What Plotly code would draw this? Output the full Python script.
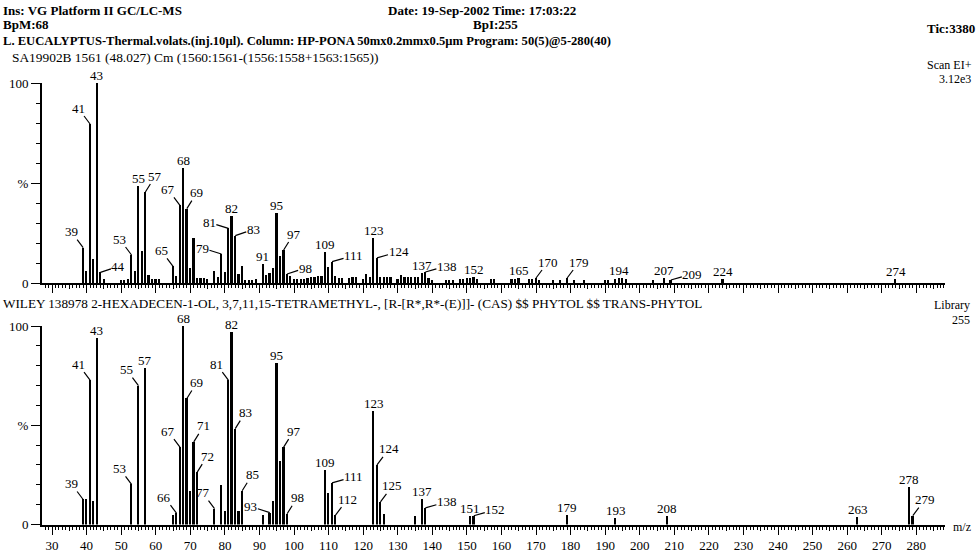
import plotly.graph_objects as go

# ---------------- data ----------------
# Sample spectrum (top): m/z and relative intensity (%)
top_mz = [39, 40, 41, 42, 43, 44, 45, 50, 51, 52, 53, 54, 55, 56, 57, 58, 59, 60, 61,
          65, 66, 67, 68, 69, 70, 71, 72, 73, 74, 75, 77, 78, 79, 80, 81, 82, 83, 84, 85,
          86, 87, 88, 89, 91, 92, 93, 94, 95, 96, 97, 98, 99, 100, 101, 102, 103, 104,
          105, 106, 107, 108, 109, 110, 111, 112, 113, 114, 116, 117, 118, 120, 121, 122,
          123, 124, 125, 126, 127, 128, 130, 131, 132, 133, 134, 135, 136, 137, 138, 139,
          140, 144, 145, 146, 148, 149, 150, 151, 152, 153, 157, 158, 163, 164, 165, 168,
          169, 170, 171, 175, 177, 179, 181, 184, 190, 191, 193, 194, 195, 196, 204, 207,
          209, 224, 274]
top_int = [17.7, 6, 79.5, 12, 100, 5.3, 2, 1.5, 1.5, 2, 14, 5.8, 48.3, 16.2, 45.5, 4, 1.8, 1.8, 1.8,
           8.3, 3.3, 38.8, 57.4, 37.2, 7.4, 22.3, 2.5, 2.5, 2.5, 2, 6, 3, 14.5, 5.3, 27.3, 33.3, 23.7, 4.5, 8.7,
           1.3, 1.5, 1.7, 2, 9.5, 4, 5, 7.3, 35, 13.3, 16.5, 4.5, 3.3, 2, 2, 2, 2, 2.5,
           3, 3, 3.3, 3.3, 15.5, 7.8, 10.7, 3.4, 2.5, 2.5, 2.5, 3, 3, 2, 4.5, 3,
           22.7, 12.6, 3, 3, 3, 3, 2, 4, 3, 3, 3, 3, 3, 5, 5.5, 2.5,
           1.7, 1.7, 1.7, 1.7, 2, 2, 2.5, 2.5, 3, 2, 2, 2, 2, 2, 2.5, 2,
           2, 2.5, 1.7, 1.5, 1.5, 2.5, 1.5, 1.5, 1.5, 1.5, 2, 2.5, 2.5, 2, 1.5, 2.5,
           1.5, 2, 2]
top_label_mz = [39, 41, 43, 44, 53, 55, 57, 65, 67, 68, 69, 79, 81, 82, 83, 91, 95, 97, 98,
                109, 111, 123, 124, 137, 138, 152, 165, 170, 179, 194, 207, 209, 224, 274]
top_label_pos = ["ul", "ul", "up", "r", "ul", "up", "ur", "ul", "ul", "up", "ur", "l", "l", "up", "r",
                 "up", "up", "ur", "r", "up", "r", "up", "r", "up", "r", "up", "up", "ur", "ur",
                 "up", "up", "r", "up", "up"]

# Library spectrum (bottom)
lib_mz = [39, 40, 41, 42, 43, 53, 55, 57, 65, 66, 67, 68, 69, 70, 71, 72, 77, 79, 80, 81, 82, 83,
          84, 85, 91, 93, 94, 95, 96, 97, 98, 109, 110, 111, 112, 123, 124, 125, 126, 135, 137,
          138, 151, 152, 179, 193, 208, 263, 278, 279]
lib_int = [12.6, 12.6, 72.7, 12, 93.8, 20.2, 70, 78.6, 5, 5.7, 39, 100, 63.5, 17, 41.6, 26.4, 8,
           20, 6.7, 72.7, 97, 48.3, 7, 17, 5, 6, 12, 81.5, 31.8, 39, 5.4, 27.5, 16, 21, 4.7,
           57, 30, 11.4, 5.5, 4.4, 13, 8.4, 4.4, 4.4, 4.7, 3.4, 4.5, 4, 18.9, 4.5]
lib_label_mz = [39, 41, 43, 53, 55, 57, 66, 67, 68, 69, 71, 72, 77, 81, 82, 83, 85, 93, 95, 97,
                98, 109, 111, 112, 123, 124, 125, 137, 138, 151, 152, 179, 193, 208, 263, 278, 279]
lib_label_pos = ["ul", "ul", "up", "ul", "ul", "up", "ul", "ul", "up", "ur", "ur", "ur", "ul",
                 "ul", "up", "ur", "ur", "l", "up", "ur", "ur", "up", "r", "ur", "up", "ur", "ur",
                 "up", "r", "up", "r", "up", "up", "up", "up", "up", "ur"]

x_tick_vals = list(range(30, 290, 10))
y_tick_vals = [0, 50, 100]
y_tick_text = ["0", "%", "100"]

# ---------------- layout helpers ----------------
W, H = 977, 554
def px(x):
    return x / W
def py(y):
    return 1 - y / H

SERIF = "Liberation Serif"
XDOM = [px(42), px(945)]
XR = [27.1, 288.3]
TOP_DOM = [py(283), py(83)]
BOT_DOM = [py(524.5), py(326)]

fig = go.Figure()
fig.add_trace(go.Bar(x=top_mz, y=top_int, width=0.5, marker=dict(color="black", line=dict(width=0)),
                     xaxis="x", yaxis="y", showlegend=False, hoverinfo="x+y"))
fig.add_trace(go.Bar(x=lib_mz, y=lib_int, width=0.5, marker=dict(color="black", line=dict(width=0)),
                     xaxis="x2", yaxis="y2", showlegend=False, hoverinfo="x+y"))
# dummy traces so the overlay tick axes are drawn
fig.add_trace(go.Scatter(x=[None], y=[None], xaxis="x3", yaxis="y", showlegend=False, hoverinfo="skip"))
fig.add_trace(go.Scatter(x=[None], y=[None], xaxis="x4", yaxis="y2", showlegend=False, hoverinfo="skip"))

def xaxis_common(labels):
    d = dict(domain=XDOM, range=XR, showline=True, linewidth=2, linecolor="black", automargin=False,
             ticks="outside", tickmode="array", tickvals=x_tick_vals, ticklen=8, tickwidth=1.3,
             tickcolor="black", showgrid=False, zeroline=False,
             minor=dict(dtick=1, tick0=0, ticks="outside", ticklen=3, tickwidth=1, tickcolor="black",
                        showgrid=False),
             showticklabels=labels, tickfont=dict(family=SERIF, size=13, color="black"))
    return d

def xaxis_five(over, anchor):
    return dict(overlaying=over, anchor=anchor, range=XR, showline=False, ticks="outside",
                dtick=5, tick0=0, ticklen=5, tickwidth=1, tickcolor="black", automargin=False,
                showticklabels=False, showgrid=False, zeroline=False)

def yaxis_common(dom, anchor):
    return dict(domain=dom, anchor=anchor, range=[0, 100], showline=True, linewidth=2, linecolor="black",
                ticks="outside", tickmode="array", tickvals=y_tick_vals, ticktext=y_tick_text,
                ticklen=9, tickwidth=1.3, tickcolor="black", showgrid=False, zeroline=False,
                automargin=False,
                minor=dict(dtick=10, tick0=0, ticks="outside", ticklen=4, tickwidth=1, tickcolor="black",
                           showgrid=False),
                tickfont=dict(family=SERIF, size=13, color="black"))

xa1 = xaxis_common(False); xa1["anchor"] = "y"
xa2 = xaxis_common(True); xa2["anchor"] = "y2"

fig.update_layout(
    width=W, height=H, margin=dict(l=0, r=0, t=0, b=0, pad=0, autoexpand=False),
    paper_bgcolor="white", plot_bgcolor="white", bargap=0,
    xaxis=xa1, xaxis2=xa2,
    xaxis3=xaxis_five("x", "y"), xaxis4=xaxis_five("x2", "y2"),
    yaxis=yaxis_common(TOP_DOM, "x"), yaxis2=yaxis_common(BOT_DOM, "x2"),
    font=dict(family=SERIF, color="black"),
)

# ---------------- peak labels ----------------
def peak_annotations(mz, inten, label_mz, label_pos, xref, yref):
    lookup = dict(zip(mz, inten))
    anns = []
    for m, pos in zip(label_mz, label_pos):
        t = str(m)
        h = lookup[m]
        base = dict(x=m, y=h, xref=xref, yref=yref, text=t, borderpad=0,
                    font=dict(family=SERIF, size=13, color="black"))
        if pos == "up":
            base.update(showarrow=False, yanchor="bottom", xanchor="center", yshift=-1)
        else:
            if pos == "ul":
                ax, ay = -12 - (len(t) - 2) * 2, -16
            elif pos == "ur":
                ax, ay = 10 + (len(t) - 2) * 2, -16
            elif pos == "r":
                ax, ay = 11 + 3.5 * len(t), -6
            else:
                ax, ay = -(11 + 4 * len(t)), -6
            base.update(showarrow=True, arrowhead=0, arrowwidth=1.2, arrowcolor="black",
                        ax=ax, ay=ay, standoff=0)
        anns.append(base)
    return anns

anns = peak_annotations(top_mz, top_int, top_label_mz, top_label_pos, "x", "y")
anns += peak_annotations(lib_mz, lib_int, lib_label_mz, lib_label_pos, "x2", "y2")

# ---------------- header / footer text ----------------
def txt(text, x, y, xanchor="left", size=13, bold=False):
    return dict(text=("<b>%s</b>" % text) if bold else text, x=px(x), y=py(y), xref="paper", yref="paper",
                xanchor=xanchor, yanchor="middle", showarrow=False, borderpad=0,
                font=dict(family=SERIF, size=size, color="black"))

anns += [
    txt("Ins: VG Platform II GC/LC-MS", 2, 10, bold=True),
    txt("Date: 19-Sep-2002 Time: 17:03:22", 387, 10, bold=True),
    txt("BpM:68", 2, 25, bold=True),
    txt("BpI:255", 472, 25, bold=True),
    txt("Tic:3380", 976, 28, xanchor="right", bold=True),
    txt("L. EUCALYPTUS-Thermal.volats.(inj.10µl). Column: HP-PONA 50mx0.2mmx0.5µm Program: 50(5)@5-280(40)",
        2, 41, size=12.6, bold=True),
    txt("SA19902B 1561 (48.027) Cm (1560:1561-(1556:1558+1563:1565))", 11, 57, size=13.4),
    txt("Scan EI+", 973, 65, xanchor="right", size=12),
    txt("3.12e3", 972, 79, xanchor="right", size=12),
    txt("WILEY 138978 2-HEXADECEN-1-OL, 3,7,11,15-TETRAMETHYL-, [R-[R*,R*-(E)]]- (CAS) $$ PHYTOL $$ TRANS-PHYTOL",
        2, 303, size=13.2),
    txt("Library", 971, 305, xanchor="right", size=12),
    txt("255", 971, 320, xanchor="right", size=12),
    txt("m/z", 952, 527, size=12),
]

fig.update_layout(annotations=anns)
fig.write_html("out.html", config={"displayModeBar": False},
               post_script="document.body.style.margin='0px';")
